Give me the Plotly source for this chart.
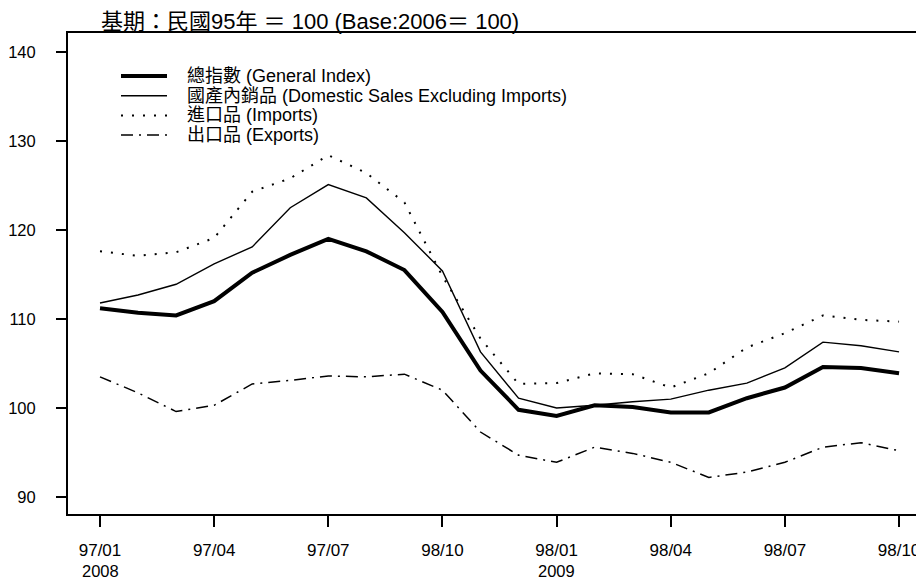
import plotly.graph_objects as go

# months 97/01 .. 98/10 (ROC calendar)
months = [f"97/{m:02d}" for m in range(1, 13)] + [f"98/{m:02d}" for m in range(1, 11)]

general = [111.2, 110.7, 110.4, 112.0, 115.2, 117.2, 119.0, 117.6, 115.5, 110.8, 104.2,
           99.8, 99.1, 100.3, 100.1, 99.5, 99.5, 101.1, 102.3, 104.6, 104.5, 103.9]
domestic = [111.8, 112.7, 113.9, 116.2, 118.1, 122.5, 125.1, 123.6, 119.7, 115.4, 106.3,
            101.1, 100.0, 100.3, 100.7, 101.0, 102.0, 102.8, 104.5, 107.4, 107.0, 106.3]
imports = [117.6, 117.1, 117.5, 119.1, 124.3, 125.8, 128.4, 126.4, 123.1, 114.8, 107.8,
           102.7, 102.8, 103.9, 103.8, 102.3, 103.9, 106.8, 108.4, 110.4, 109.9, 109.7]
exports = [103.5, 101.7, 99.6, 100.3, 102.7, 103.1, 103.6, 103.5, 103.8, 102.0, 97.3,
           94.7, 93.9, 95.6, 94.9, 93.9, 92.2, 92.8, 93.9, 95.6, 96.1, 95.2]

series_names = ["總指數 (General Index)",
                "國產內銷品 (Domestic Sales Excluding Imports)",
                "進口品 (Imports)",
                "出口品 (Exports)"]

tick_vals = ["97/01", "97/04", "97/07", "97/10", "98/01", "98/04", "98/07", "98/10"]
tick_text = ["97/01", "97/04", "97/07", "98/10", "98/01", "98/04", "98/07", "98/10"]
year_vals = ["97/01", "98/01"]
year_text = ["2008", "2009"]

FONT = "Arial, 'Liberation Sans', 'Noto Sans CJK TC', sans-serif"
W, H = 924, 581
OFF = 8  # page margin of the html body
L, R, T, B = 60, 0, 25, 75
PW, PH = W - L - R, H - T - B


def px_x(x):
    # page pixel -> paper coordinate
    return (x - OFF - L) / PW


def px_y(y):
    return (H - B - (y - OFF)) / PH


styles = [dict(color="black", width=4),
          dict(color="black", width=1.4),
          dict(color="black", width=2, dash="2px,9px"),
          dict(color="black", width=1.5, dash="12px,6px,2px,6px")]

fig = go.Figure()
for vals, name, st in zip([general, domestic, imports, exports], series_names, styles):
    fig.add_trace(go.Scatter(x=months, y=vals, mode="lines", name=name,
                             line=st, showlegend=False))

# hand-made legend (tight rows like the original)
shapes = []
annotations = []
for i, (name, st) in enumerate(zip(series_names, styles)):
    yy = px_y(76 + i * 19.7)
    shapes.append(dict(type="line", xref="paper", yref="paper",
                       x0=px_x(121), x1=px_x(167), y0=yy, y1=yy,
                       line=dict(color="black", width=st["width"], dash=st.get("dash", "solid"))))
    annotations.append(dict(text=name, xref="paper", yref="paper", x=px_x(185), y=yy,
                            xanchor="left", yanchor="middle", showarrow=False,
                            font=dict(size=18)))

annotations.append(dict(text="基期：民國95年 ＝ 100 (Base:2006＝ 100)", xref="paper", yref="paper",
                        x=px_x(99), y=px_y(22), xanchor="left", yanchor="middle",
                        showarrow=False, font=dict(size=22)))
for v, t in zip(year_vals, year_text):
    annotations.append(dict(text=t, xref="x", yref="paper", x=v, y=px_y(571),
                            xanchor="center", yanchor="middle", showarrow=False,
                            font=dict(size=16.5)))

x_left = -(100 - 68) / 38.05
x_right = (W + OFF - 100) / 38.05

fig.update_layout(
    width=W, height=H,
    paper_bgcolor="white", plot_bgcolor="white",
    font=dict(family=FONT, size=18, color="black"),
    margin=dict(l=L, r=R, t=T, b=B, autoexpand=False),
    showlegend=False,
    shapes=shapes,
    annotations=annotations,
)

fig.update_xaxes(
    type="category", range=[x_left, x_right],
    tickvals=tick_vals, ticktext=tick_text,
    showline=True, linecolor="black", linewidth=2, mirror=True,
    ticks="outside", ticklen=11, tickwidth=1.5, tickcolor="black",
    ticklabelstandoff=9, showgrid=False, zeroline=False, automargin=False,
    tickfont=dict(size=17),
)
fig.update_yaxes(
    range=[88.09, 142.13], tickvals=[90, 100, 110, 120, 130, 140],
    showline=True, linecolor="black", linewidth=2,
    ticks="outside", ticklen=10, tickwidth=2, tickcolor="black",
    ticklabelstandoff=17, showgrid=False, zeroline=False, automargin=False,
    tickfont=dict(size=16.5),
)

fig.write_html("out.html")
